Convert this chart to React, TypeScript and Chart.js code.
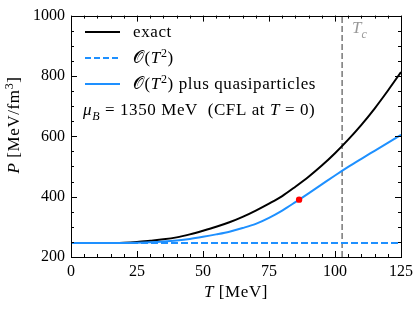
import React, { useEffect, useRef } from "react";
import { Chart, registerables } from "chart.js";

Chart.register(...registerables);

// ---- data ----
const temps = [0, 5, 10, 15, 20, 25, 30, 35, 40, 45, 50, 55, 60, 65, 70, 75, 80, 85, 90, 95, 100, 105, 110, 115, 120, 125];
const exactP = [246, 246, 246.2, 246.6, 247.5, 250, 254, 258.5, 265, 275, 287, 300, 315, 333, 354, 377, 402, 433, 466, 503, 544, 589, 638, 692, 751, 813];
const quasiP = [246, 246, 246, 246.2, 246.6, 247.5, 249, 251.5, 255, 260, 267, 275, 284, 296, 310, 330, 354, 382, 411, 440.5, 470, 498.5, 525.5, 552, 578.5, 605];
const orderT2Temps = [0, 125];
const orderT2P = [246, 246];
const tc = 102.7;
const tcRange = [200, 1000];
const markerT = [86.4];
const markerP = [390];
const xTickStep = 25;
const yTickStep = 200;

const SERIF = '"Liberation Serif", "Times New Roman", serif';
const BLUE = "#1e90ff";

type Seg = { t: string; it?: boolean; sub?: boolean; sup?: boolean };

function drawRich(
  ctx: CanvasRenderingContext2D,
  segs: Seg[],
  x: number,
  y: number,
  fs: number,
  color: string,
  align: "left" | "center" = "left",
  spacing = 0
) {
  const fontFor = (s: Seg) => `${s.it ? "italic " : ""}${s.sub || s.sup ? Math.round(fs * 0.7) : fs}px ${SERIF}`;
  (ctx as any).letterSpacing = `${spacing}px`;
  let w = 0;
  for (const s of segs) {
    ctx.font = fontFor(s);
    w += ctx.measureText(s.t).width;
  }
  let cx = align === "center" ? x - w / 2 : x;
  ctx.fillStyle = color;
  ctx.textAlign = "left";
  ctx.textBaseline = "alphabetic";
  for (const s of segs) {
    ctx.font = fontFor(s);
    const dy = s.sub ? fs * 0.28 : s.sup ? -fs * 0.38 : 0;
    ctx.fillText(s.t, cx, y + dy);
    cx += ctx.measureText(s.t).width;
  }
  (ctx as any).letterSpacing = "0px";
}

const decor = {
  id: "decor",
  afterDraw(chart: any) {
    const ctx: CanvasRenderingContext2D = chart.ctx;
    const { left, right, top, bottom } = chart.chartArea;
    const xs = chart.scales.x;
    const ys = chart.scales.y;
    ctx.save();
    // frame
    ctx.strokeStyle = "#000";
    ctx.lineWidth = 1;
    ctx.strokeRect(Math.round(left) + 0.5, Math.round(top) + 0.5, Math.round(right - left), Math.round(bottom - top));
    // inward ticks
    ctx.beginPath();
    for (let v = xs.min; v <= xs.max + 1e-9; v += 5) {
      const px = Math.round(xs.getPixelForValue(v)) + 0.5;
      const len = v % xTickStep === 0 ? 6 : 3;
      ctx.moveTo(px, bottom);
      ctx.lineTo(px, bottom - len);
      ctx.moveTo(px, top);
      ctx.lineTo(px, top + len);
    }
    for (let v = ys.min; v <= ys.max + 1e-9; v += 50) {
      const py = Math.round(ys.getPixelForValue(v)) + 0.5;
      const len = v % yTickStep === 0 ? 6 : 3;
      ctx.moveTo(left, py);
      ctx.lineTo(left + len, py);
      ctx.moveTo(right, py);
      ctx.lineTo(right - len, py);
    }
    ctx.stroke();

    // legend
    const fs = 17;
    const sp = 0.6;
    const lx0 = 85, lx1 = 120, tx = 133;
    const rows = [32, 58, 84];
    ctx.lineWidth = 2;
    ctx.strokeStyle = "#000";
    ctx.setLineDash([]);
    ctx.beginPath(); ctx.moveTo(lx0, rows[0]); ctx.lineTo(lx1, rows[0]); ctx.stroke();
    ctx.strokeStyle = BLUE;
    ctx.setLineDash([6, 3]);
    ctx.beginPath(); ctx.moveTo(lx0, rows[1]); ctx.lineTo(lx1, rows[1]); ctx.stroke();
    ctx.setLineDash([]);
    ctx.beginPath(); ctx.moveTo(lx0, rows[2]); ctx.lineTo(lx1, rows[2]); ctx.stroke();

    drawRich(ctx, [{ t: "exact" }], tx, rows[0] + 5, fs, "#000", "left", sp);
    const O: Seg[] = [{ t: "\u{1D4AA}" }, { t: "(" }, { t: "T", it: true }, { t: "2", sup: true }, { t: ")" }];
    drawRich(ctx, O, tx, rows[1] + 5, fs, "#000", "left", sp);
    drawRich(ctx, [...O, { t: " plus quasiparticles" }], tx, rows[2] + 5, fs, "#000", "left", sp);
    drawRich(
      ctx,
      [
        { t: "\u03BC", it: true },
        { t: "B", it: true, sub: true },
        { t: " = 1350 MeV  (CFL at " },
        { t: "T", it: true },
        { t: " = 0)" },
      ],
      83,
      115,
      fs,
      "#000",
      "left",
      sp
    );

    // Tc label
    drawRich(ctx, [{ t: "T", it: true }, { t: "c", it: true, sub: true }], 352, 33, fs, "#999");

    // axis titles
    drawRich(ctx, [{ t: "T", it: true }, { t: " [MeV]" }], (left + right) / 2, 297, fs, "#000", "center", sp);
    ctx.save();
    ctx.translate(19, 125);
    ctx.rotate(-Math.PI / 2);
    drawRich(ctx, [{ t: "P", it: true }, { t: " [MeV/fm" }, { t: "3", sup: true }, { t: "]" }], 0, 0, fs, "#000", "center", sp);
    ctx.restore();
    ctx.restore();
  },
};

export default function App() {
  const ref = useRef<HTMLCanvasElement | null>(null);
  useEffect(() => {
    document.body.style.margin = "0";
    const cv = ref.current!;
    const pts = (xs: number[], ys: number[]) => xs.map((x, i) => ({ x, y: ys[i] }));
    const chart = new Chart(cv, {
      type: "line",
      data: {
        datasets: [
          {
            label: "marker",
            data: pts(markerT, markerP),
            showLine: false,
            pointRadius: 3.2,
            pointBackgroundColor: "#ff0000",
            pointBorderColor: "#ff0000",
            pointBorderWidth: 0,
          },
          {
            label: "O(T^2) plus quasiparticles",
            data: pts(temps, quasiP),
            borderColor: BLUE,
            borderWidth: 2,
            pointRadius: 0,
            cubicInterpolationMode: "monotone",
          },
          {
            label: "O(T^2)",
            data: pts(orderT2Temps, orderT2P),
            borderColor: BLUE,
            borderWidth: 2,
            borderDash: [7, 3],
            pointRadius: 0,
          },
          {
            label: "exact",
            data: pts(temps, exactP),
            borderColor: "#000",
            borderWidth: 2,
            pointRadius: 0,
            cubicInterpolationMode: "monotone",
          },
          {
            label: "Tc",
            data: tcRange.map((y) => ({ x: tc, y })),
            borderColor: "#777",
            borderWidth: 1.5,
            borderDash: [6, 3],
            pointRadius: 0,
          },
        ],
      } as any,
      options: {
        animation: false,
        responsive: false,
        devicePixelRatio: 1,
        layout: { padding: { top: 13, right: 19, left: 0, bottom: 0 } },
        plugins: { legend: { display: false }, tooltip: { enabled: false } },
        scales: {
          x: {
            type: "linear",
            min: 0,
            max: 125,
            ticks: { stepSize: xTickStep, padding: 5, color: "#000", font: { family: SERIF, size: 16 }, callback: (v: any) => String(v) },
            grid: { display: false, drawTicks: false },
            border: { display: false },
            afterFit: (s: any) => { s.height = 52; },
          },
          y: {
            type: "linear",
            min: 200,
            max: 1000,
            ticks: { stepSize: yTickStep, padding: 6, color: "#000", font: { family: SERIF, size: 16 }, callback: (v: any) => String(v) },
            grid: { display: false, drawTicks: false },
            border: { display: false },
            afterFit: (s: any) => { s.width = 71; },
          },
        },
      } as any,
      plugins: [decor],
    });
    return () => chart.destroy();
  }, []);
  return (
    <div style={{ position: "absolute", left: 0, top: 0, width: 420, height: 309 }}>
      <canvas ref={ref} width={420} height={309} style={{ width: 420, height: 309 }} />
    </div>
  );
}
